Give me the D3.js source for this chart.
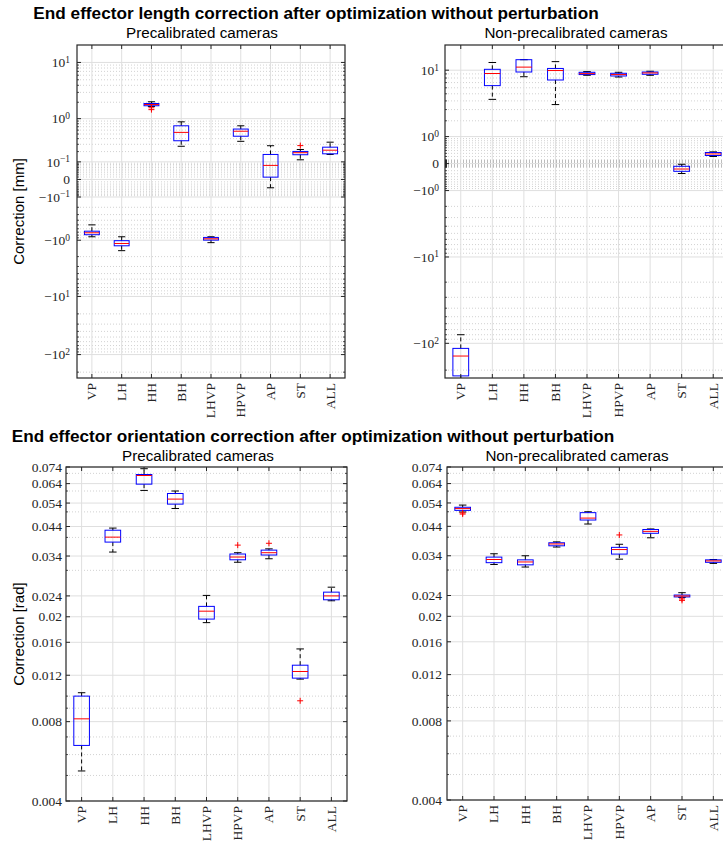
<!DOCTYPE html>
<html>
<head>
<meta charset="utf-8">
<script src="https://cdn.jsdelivr.net/npm/d3@7"></script>
<style>
  body { margin: 0; background: #fff; }
  svg { display: block; }
  .tl { font-family: "Liberation Serif", "DejaVu Serif", serif; font-size: 13.5px; fill: #262626; }
  .sans { font-family: "Liberation Sans", Arial, sans-serif; fill: #000; }
</style>
</head>
<body>
<svg id="chart" width="723" height="847"></svg>
<script>
const categories = ['VP', 'LH', 'HH', 'BH', 'LHVP', 'HPVP', 'AP', 'ST', 'ALL'];

// five-number rows per category: [whisker low, q1, median, q3, whisker high]
const lengthPre = [
  [-0.86, -0.785, -0.72, -0.67, -0.50],
  [-1.56, -1.27, -1.15, -1.02, -0.86],
  [1.68, 1.73, 1.82, 1.90, 2.04],
  [0.27, 0.36, 0.54, 0.73, 0.87],
  [-1.11, -0.995, -0.94, -0.885, -0.86],
  [0.35, 0.45, 0.57, 0.63, 0.73],
  [-0.039, 0.0095, 0.074, 0.168, 0.278],
  [0.117, 0.165, 0.187, 0.202, 0.226],
  [0.168, 0.175, 0.217, 0.257, 0.335]
];
const lengthPreOut = [[], [], [1.59, 1.47], [], [], [], [], [0.28], []];

const lengthNon = [
  [-400, -232, -139, -114, -80],
  [4.2, 6.4, 9.1, 10.25, 12.4],
  [8.3, 9.5, 10.9, 13.4, 13.4],
  [3.55, 7.55, 9.9, 10.5, 12.7],
  [8.65, 8.83, 9.07, 9.42, 9.61],
  [8.23, 8.48, 8.83, 9.16, 9.42],
  [8.65, 8.9, 9.25, 9.5, 9.7],
  [-0.29, -0.22, -0.15, -0.072, -0.018],
  [0.20, 0.23, 0.28, 0.33, 0.35]
];
const lengthNonOut = [[], [], [], [], [], [], [], [], []];

const orientPre = [
  [0.0052, 0.0065, 0.0082, 0.0100, 0.0103],
  [0.0352, 0.0384, 0.0401, 0.0426, 0.0434],
  [0.0603, 0.0637, 0.0687, 0.0693, 0.0729],
  [0.0515, 0.0535, 0.0559, 0.0587, 0.0600],
  [0.0190, 0.0196, 0.0210, 0.0219, 0.0241],
  [0.0322, 0.0329, 0.0337, 0.0346, 0.0350],
  [0.0332, 0.0343, 0.0350, 0.0358, 0.0362],
  [0.0116, 0.0117, 0.0124, 0.0131, 0.0151],
  [0.0230, 0.0232, 0.0240, 0.0248, 0.0259]
];
const orientPreOut = [[], [], [], [], [], [0.0374], [0.0380], [0.0096], []];

const orientNon = [
  [0.0499, 0.0506, 0.0514, 0.0520, 0.0530],
  [0.0315, 0.0320, 0.0329, 0.0336, 0.0346],
  [0.0308, 0.0314, 0.0322, 0.0328, 0.0340],
  [0.0367, 0.0371, 0.0377, 0.0381, 0.0384],
  [0.0449, 0.0465, 0.0473, 0.0496, 0.0500],
  [0.0330, 0.0345, 0.0359, 0.0366, 0.0376],
  [0.0398, 0.0414, 0.0421, 0.0428, 0.0430],
  [0.0236, 0.0237, 0.0239, 0.0241, 0.0246],
  [0.0318, 0.0321, 0.0325, 0.0328, 0.0329]
];
const orientNonOut = [[0.0490, 0.0495], [], [], [], [], [0.0408], [], [0.0233, 0.0230], []];

const lengthTicksPre = [10, 1, 0.1, 0, -0.1, -1, -10, -100];
const lengthTicksNon = [10, 1, 0, -1, -10, -100];
const orientTicks = [0.074, 0.064, 0.054, 0.044, 0.034, 0.024, 0.02, 0.016, 0.012, 0.008, 0.004];
const orientMinor = [0.07, 0.06, 0.05, 0.04, 0.03, 0.01, 0.009, 0.007, 0.006, 0.005];

const svg = d3.select('#chart');
const axisColor = '#262626';

function symMinor(ticks, lo, hi) {
  const out = [];
  for (let k = -2; k <= 2; k++) {
    for (let m = 1; m <= 9; m++) {
      const v = m * Math.pow(10, k);
      [v, -v].forEach((s) => {
        if (s > lo && s < hi && !ticks.some((t) => Math.abs(t - s) < 1e-9)) out.push(s);
      });
    }
  }
  return out;
}

function powLabel(sel, v) {
  if (v === 0) { sel.text('0'); return; }
  const k = Math.round(Math.log10(Math.abs(v)));
  sel.append('tspan').text((v < 0 ? '\u2212' : '') + '10');
  sel.append('tspan').attr('dy', '-0.45em').style('font-size', '9.5px')
    .text(k < 0 ? '\u2212' + (-k) : String(k));
}

let clipId = 0;
function drawPanel(p) {
  const g = svg.append('g');
  const x = d3.scaleBand().domain(categories).range([p.x0, p.x1]);
  const bw = x.bandwidth();
  const cx = (c) => x(c) + bw / 2;
  const y = p.y.range([p.y1, p.y0]);

  const id = 'clip' + (clipId++);
  svg.append('clipPath').attr('id', id)
    .append('rect').attr('x', p.x0).attr('y', p.y0).attr('width', p.x1 - p.x0).attr('height', p.y1 - p.y0);

  const grid = g.append('g');
  // minor grid
  grid.selectAll('line.mi').data(p.minor).join('line')
    .attr('x1', p.x0).attr('x2', p.x1).attr('y1', (d) => y(d)).attr('y2', (d) => y(d))
    .attr('stroke', '#b4b4b4').attr('stroke-width', 0.6).attr('stroke-dasharray', '1,2');
  // major grid
  grid.selectAll('line.ma').data(p.ticks).join('line')
    .attr('x1', p.x0).attr('x2', p.x1).attr('y1', (d) => y(d)).attr('y2', (d) => y(d))
    .attr('stroke', '#dfdfdf').attr('stroke-width', 1);
  grid.selectAll('line.vx').data(categories).join('line')
    .attr('x1', cx).attr('x2', cx).attr('y1', p.y0).attr('y2', p.y1)
    .attr('stroke', '#dfdfdf').attr('stroke-width', 1);

  // boxes
  const marks = g.append('g').attr('clip-path', `url(#${id})`);
  const hw = bw * 0.25;
  const cw = bw * 0.12;
  categories.forEach((c, i) => {
    const [lo, q1, md, q3, hi] = p.stats[i];
    const xc = cx(c);
    marks.append('line').attr('x1', xc).attr('x2', xc).attr('y1', y(q3)).attr('y2', y(hi))
      .attr('stroke', '#000').attr('stroke-dasharray', '4,3');
    marks.append('line').attr('x1', xc).attr('x2', xc).attr('y1', y(q1)).attr('y2', y(lo))
      .attr('stroke', '#000').attr('stroke-dasharray', '4,3');
    [lo, hi].forEach((v) => {
      marks.append('line').attr('x1', xc - cw).attr('x2', xc + cw).attr('y1', y(v)).attr('y2', y(v))
        .attr('stroke', '#000');
    });
    marks.append('rect').attr('x', xc - hw).attr('width', 2 * hw)
      .attr('y', y(q3)).attr('height', Math.max(0.5, y(q1) - y(q3)))
      .attr('fill', 'none').attr('stroke', '#0000ff').attr('stroke-width', 1);
    marks.append('line').attr('x1', xc - hw).attr('x2', xc + hw).attr('y1', y(md)).attr('y2', y(md))
      .attr('stroke', '#ff0000').attr('stroke-width', 1);
    p.out[i].forEach((v) => {
      const yy = y(v);
      marks.append('path').attr('d', `M${xc - 3},${yy}H${xc + 3}M${xc},${yy - 3}V${yy + 3}`)
        .attr('stroke', '#ff0000').attr('stroke-width', 1);
    });
  });

  // frame
  g.append('rect').attr('x', p.x0).attr('y', p.y0).attr('width', p.x1 - p.x0).attr('height', p.y1 - p.y0)
    .attr('fill', 'none').attr('stroke', axisColor).attr('stroke-width', 1.2);

  const tk = g.append('g').attr('stroke', axisColor).attr('stroke-width', 1);
  categories.forEach((c) => {
    tk.append('line').attr('x1', cx(c)).attr('x2', cx(c)).attr('y1', p.y1).attr('y2', p.y1 - 4);
    tk.append('line').attr('x1', cx(c)).attr('x2', cx(c)).attr('y1', p.y0).attr('y2', p.y0 + 4);
  });
  p.ticks.forEach((v) => {
    tk.append('line').attr('x1', p.x0).attr('x2', p.x0 + 4).attr('y1', y(v)).attr('y2', y(v));
    tk.append('line').attr('x1', p.x1).attr('x2', p.x1 - 4).attr('y1', y(v)).attr('y2', y(v));
  });
  p.minor.forEach((v) => {
    tk.append('line').attr('x1', p.x0).attr('x2', p.x0 + 2).attr('y1', y(v)).attr('y2', y(v)).attr('stroke-width', 0.8);
    tk.append('line').attr('x1', p.x1).attr('x2', p.x1 - 2).attr('y1', y(v)).attr('y2', y(v)).attr('stroke-width', 0.8);
  });

  // y tick labels
  p.ticks.forEach((v) => {
    const t = g.append('text').attr('class', 'tl').attr('text-anchor', 'end')
      .attr('x', p.x0 - p.labelGap).attr('y', y(v)).attr('dy', '0.35em');
    if (p.pow) powLabel(t, v); else t.text(String(v));
  });

  // x tick labels
  categories.forEach((c) => {
    g.append('text').attr('class', 'tl').attr('text-anchor', 'end')
      .attr('transform', `translate(${cx(c)},${p.y1 + 5}) rotate(-90)`)
      .attr('dy', '0.33em').text(c);
  });

  g.append('text').attr('class', 'sans').attr('text-anchor', 'middle')
    .attr('x', p.subX).attr('y', p.subY).style('font-size', '15.2px').text(p.subtitle);

  if (p.ylabel) {
    g.append('text').attr('class', 'sans').attr('text-anchor', 'middle')
      .attr('transform', `translate(24,${(p.y0 + p.y1) / 2}) rotate(-90)`)
      .style('font-size', '15px').text(p.ylabel);
  }
}

const yTL = d3.scaleSymlog().constant(0.1).domain([-252, 20]);
const yTR = d3.scaleSymlog().constant(1).domain([-245, 20]);

drawPanel({
  x0: 77, x1: 345, y0: 45, y1: 378, y: yTL, ticks: lengthTicksPre,
  minor: symMinor(lengthTicksPre, -252, 20), stats: lengthPre, out: lengthPreOut, pow: true, labelGap: 7,
  subtitle: 'Precalibrated cameras', subX: 202, subY: 38, ylabel: 'Correction [mm]'
});
drawPanel({
  x0: 445, x1: 729, y0: 45, y1: 378, y: yTR, ticks: lengthTicksNon,
  minor: symMinor(lengthTicksNon, -245, 20), stats: lengthNon, out: lengthNonOut, pow: true, labelGap: 6,
  subtitle: 'Non-precalibrated cameras', subX: 576, subY: 38
});
drawPanel({
  x0: 66, x1: 347, y0: 467, y1: 801, y: d3.scaleLog().domain([0.004, 0.074]), ticks: orientTicks,
  minor: orientMinor, stats: orientPre, out: orientPreOut, pow: false, labelGap: 4,
  subtitle: 'Precalibrated cameras', subX: 198, subY: 461, ylabel: 'Correction [rad]'
});
drawPanel({
  x0: 447, x1: 729, y0: 467, y1: 800, y: d3.scaleLog().domain([0.004, 0.074]), ticks: orientTicks,
  minor: orientMinor, stats: orientNon, out: orientNonOut, pow: false, labelGap: 5,
  subtitle: 'Non-precalibrated cameras', subX: 577, subY: 461
});

svg.append('text').attr('class', 'sans').attr('text-anchor', 'middle')
  .attr('x', 316).attr('y', 19).style('font-size', '17.2px').style('font-weight', 'bold')
  .text('End effector length correction after optimization without perturbation');
svg.append('text').attr('class', 'sans').attr('text-anchor', 'middle')
  .attr('x', 313).attr('y', 442).style('font-size', '17.2px').style('font-weight', 'bold')
  .text('End effector orientation correction after optimization without perturbation');
</script>
</body>
</html>
